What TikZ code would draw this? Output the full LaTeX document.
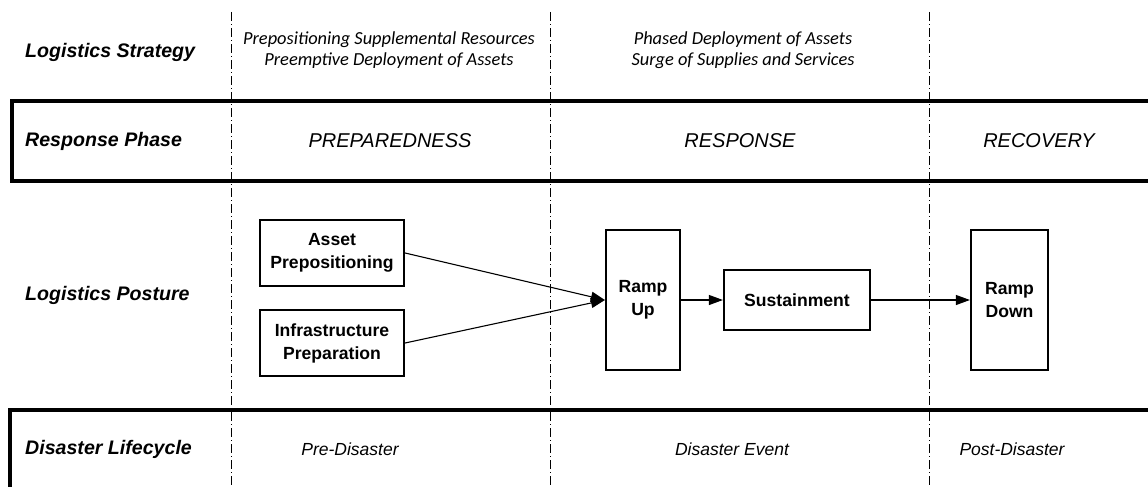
\documentclass[tikz,border=0pt]{standalone}
\usepackage{fontspec}
\setmainfont{Liberation Sans}
\newfontfamily\calib{Carlito}
\usetikzlibrary{arrows.meta}
\begin{document}
\begin{tikzpicture}[x=1pt,y=-1pt,
  rowlabel/.style={anchor=west,font=\fontsize{19.6}{22}\selectfont\bfseries\itshape,inner sep=0pt},
  phase/.style={font=\fontsize{20}{22}\selectfont\itshape,inner sep=0pt},
  life/.style={font=\fontsize{17.5}{20}\selectfont\itshape,inner sep=0pt},
  strat/.style={font=\fontsize{18.4}{21}\selectfont\calib\itshape,align=center,inner sep=0pt},
  posbox/.style={draw,line width=2.2pt,align=center,font=\fontsize{17.6}{23}\selectfont\bfseries,inner sep=0pt},
  band/.style={draw,line width=3.2pt},
  divider/.style={line width=1pt,dash pattern=on 9pt off 3pt on 1pt off 3pt},
  conn/.style={line width=1.1pt,-{Triangle[length=14pt,width=10pt]}}
]
\useasboundingbox (0,0) rectangle (1148,487);
\begin{scope}
\clip (0,0) rectangle (1148,487);
% bands
\draw[band] (12,101) rectangle (1160,181);
\draw[band] (10,410) rectangle (1160,500);
% dividers
\coordinate (d1t) at (231,12); \coordinate (d1b) at (231,487);
\coordinate (d2t) at (550,12); \coordinate (d2b) at (550,487);
\coordinate (d3t) at (929,12); \coordinate (d3b) at (929,487);
\draw[divider] (d1t) -- (d1b);
\draw[divider] (d2t) -- (d2b);
\draw[divider] (d3t) -- (d3b);
\end{scope}
% row labels
\node[rowlabel] (l1) at (25,52) {Logistics Strategy};
\node[rowlabel] (l2) at (25,141) {Response Phase};
\node[rowlabel] (l3) at (25,295) {Logistics Posture};
\node[rowlabel] (l4) at (25,449) {Disaster Lifecycle};
% strategy texts
\node[strat] (s1) at (389,50) {Prepositioning Supplemental Resources\\Preemptive Deployment of Assets};
\node[strat] (s2) at (743,50) {Phased Deployment of Assets\\Surge of Supplies and Services};
% phases
\node[phase] (p1) at (390,141) {PREPAREDNESS};
\node[phase] (p2) at (740,141) {RESPONSE};
\node[phase] (p3) at (1039,141) {RECOVERY};
% lifecycle
\node[life] (c1) at (350,449) {Pre-Disaster};
\node[life] (c2) at (732,449) {Disaster Event};
\node[life] (c3) at (1012,449) {Post-Disaster};
% posture boxes
\node[posbox,minimum width=144pt,minimum height=66pt] (ap) at (332,253) {Asset\\Prepositioning};
\node[posbox,minimum width=144pt,minimum height=66pt] (ip) at (332,343) {Infrastructure\\Preparation};
\node[posbox,minimum width=74pt,minimum height=140pt] (ru) at (643,300) {Ramp\\Up};
\node[posbox,minimum width=146pt,minimum height=60pt] (su) at (797,300) {Sustainment};
\node[posbox,minimum width=77pt,minimum height=140pt] (rd) at (1009.5,300) {Ramp\\Down};
% connectors
\draw[conn] (ap.east) -- (ru.west);
\draw[conn] (ip.east) -- (ru.west);
\draw[conn] (ru.east) -- (su.west);
\draw[conn] (su.east) -- (rd.west);
\end{tikzpicture}
\end{document}
